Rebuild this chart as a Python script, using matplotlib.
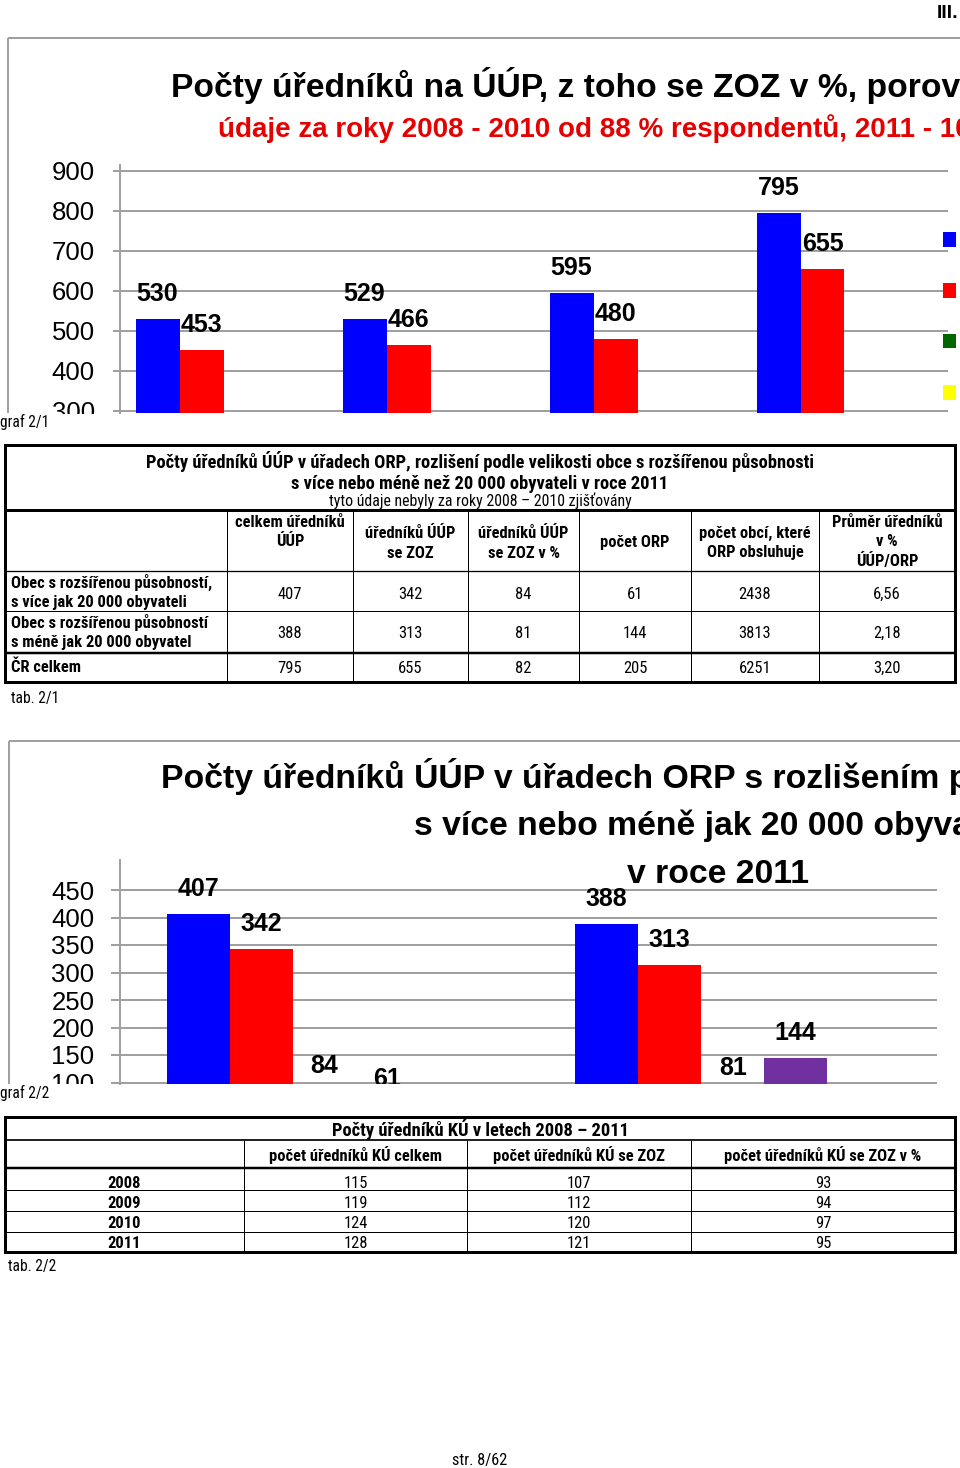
import numpy as np
import matplotlib
matplotlib.use('Agg')
import matplotlib.pyplot as plt
from matplotlib import font_manager as fm, transforms
from matplotlib.patches import Rectangle, Patch

# ---------------- data ----------------
years = ['2008', '2009', '2010', '2011']
g1_celkem = [530, 529, 595, 795]
g1_zoz = [453, 466, 480, 655]
g1_zoz_pct = [85, 88, 81, 82]
g1_resp_pct = [88, 88, 88, 100]
g1_names = ['počet úředníků ÚÚP', 'z toho se ZOZ', 'se ZOZ v %', 'respondentů v %']
g1_ticks = [300, 400, 500, 600, 700, 800, 900]

t1_cols = ['celkem úředníků\nÚÚP', 'úředníků ÚÚP\nse ZOZ', 'úředníků ÚÚP\nse ZOZ v %',
           'počet ORP', 'počet obcí, které\nORP obsluhuje', 'Průměr úředníků\nv %\nÚÚP/ORP']
t1_rows = ['Obec s rozšířenou působností,\ns více jak 20 000 obyvateli',
           'Obec s rozšířenou působností\ns méně jak 20 000 obyvatel',
           'ČR celkem']
t1_celkem = [407, 388, 795]
t1_zoz = [342, 313, 655]
t1_zoz_pct = [84, 81, 82]
t1_orp = [61, 144, 205]
t1_obci = [2438, 3813, 6251]
t1_prumer = [6.56, 2.18, 3.20]
g2_names = ['celkem úředníků ÚÚP', 'úředníků ÚÚP se ZOZ', 'úředníků ÚÚP se ZOZ v %',
            'počet ORP', 'průměr úředníků ÚÚP/ORP']
g2_ticks = [100, 150, 200, 250, 300, 350, 400, 450]

t2_cols = ['počet úředníků KÚ celkem', 'počet úředníků KÚ se ZOZ', 'počet úředníků KÚ se ZOZ v %']
t2_years = ['2008', '2009', '2010', '2011']
t2_celkem = [115, 119, 124, 128]
t2_zoz = [107, 112, 120, 121]
t2_pct = [93, 94, 97, 95]

T1_TITLE = 'Počty úředníků ÚÚP v úřadech ORP, rozlišení podle velikosti obce s rozšířenou působnosti'

# ---------------- style ----------------
W, H = 960, 1468
plt.rcParams['font.family'] = ['Liberation Sans', 'DejaVu Sans']
GRID = '#a0a0a0'
PX = 0.72  # points per pixel at dpi 100

fig = plt.figure(figsize=(W / 100, H / 100), dpi=100)

# choose a narrow font for the tables (Arial Narrow look)
_names = {f.name for f in fm.fontManager.ttflist}
NARROW_FAM, NARROW_STRETCH = None, 'normal'
for cand in ['Liberation Sans Narrow', 'Arial Narrow', 'Roboto Condensed', 'Noto Sans Condensed',
             'Open Sans Condensed', 'Noto Sans Display Condensed']:
    if cand in _names:
        NARROW_FAM = cand
        break
if NARROW_FAM is None:
    for f in fm.fontManager.ttflist:
        if f.name in ('Noto Sans', 'Roboto', 'Open Sans') and str(f.stretch) in ('condensed', 'semi-condensed'):
            NARROW_FAM, NARROW_STRETCH = f.name, 'condensed'
            break
if NARROW_FAM is None:
    NARROW_FAM = 'Liberation Sans'
NARROW = [NARROW_FAM, 'DejaVu Sans']
_r = fig.canvas.get_renderer()
_t = fig.text(0, 0, T1_TITLE, fontsize=13.5, fontweight='bold', family=NARROW, fontstretch=NARROW_STRETCH)
NK = 670.0 / _t.get_window_extent(_r).width
_t.remove()


def add_ax_px(x0, y0, x1, y1, **kw):
    return fig.add_axes([x0 / W, 1 - y1 / H, (x1 - x0) / W, (y1 - y0) / H], **kw)


def setup_chart(ax, ticks, tick_len, pad):
    ax.set_yticks(ticks)
    ax.set_yticklabels([str(t) for t in ticks])
    ax.tick_params(axis='y', length=tick_len, width=2 * PX, color=GRID, pad=pad,
                   labelsize=18.5, labelcolor='black')
    ax.tick_params(axis='x', bottom=False, labelbottom=False)
    for s in ['top', 'right', 'bottom']:
        ax.spines[s].set_visible(False)
    ax.spines['left'].set_color(GRID)
    ax.spines['left'].set_linewidth(2 * PX)
    ax.yaxis.grid(True, color=GRID, lw=2 * PX)
    ax.set_axisbelow(True)
    ax.patch.set_alpha(0)


def bar_labels(ax, bars, vals, fmt):
    tr = transforms.offset_copy(ax.transData, fig=fig, x=0, y=18, units='dots')
    for b, v in zip(bars, vals):
        t = ax.text(b.get_x() + b.get_width() / 2, v, fmt(v), transform=tr,
                    ha='center', va='baseline', fontsize=18, fontweight='bold')
        t.set_clip_on(True)
        t.set_clip_box(ax.bbox)


# ---------------- chart 1 ----------------
c1_top, c1_bot = 165, 413
c1_px300, c1_scale = 411, 0.4   # pixel of 300, pixels per unit
ax1 = add_ax_px(120, c1_top, 948, c1_bot, zorder=1)
ax1.set_ylim(300 - (c1_bot - c1_px300) / c1_scale, 300 + (c1_px300 - c1_top) / c1_scale)
x1 = np.arange(len(years))
w1 = 0.2125
series1 = [g1_celkem, g1_zoz, g1_zoz_pct, g1_resp_pct]
colors1 = ['#0000ff', '#ff0000', '#006600', '#ffff00']
for i, (vals, col, nm) in enumerate(zip(series1, colors1, g1_names)):
    bars = ax1.bar(x1 + (i - 1.5) * w1, vals, w1, color=col, label=nm, zorder=2, linewidth=0)
    bar_labels(ax1, bars, vals, lambda v: f'{v}')
ax1.set_xlim(-0.5, len(years) - 0.5)
setup_chart(ax1, g1_ticks, 7 * PX, 13)
ax1.legend(handles=[Patch(facecolor=c, edgecolor='none') for c in colors1], labels=g1_names,
           loc='upper left', bbox_to_anchor=(943 / W, 1 - 229.5 / H), bbox_transform=fig.transFigure,
           frameon=False, fontsize=14, handlelength=0.67, handleheight=0.8, labelspacing=1.68,
           borderpad=0, borderaxespad=0, handletextpad=0.5)

# ---------------- chart 2 ----------------
c2_top, c2_bot = 860, 1084
c2_px100, c2_scale = 1082.5, 0.55
ax2 = add_ax_px(120, c2_top, 937, c2_bot, zorder=1)
ax2.set_ylim(100 - (c2_bot - c2_px100) / c2_scale, 100 + (c2_px100 - c2_top) / c2_scale)
x2 = np.arange(2)
w2 = 0.1542
series2 = [t1_celkem[:2], t1_zoz[:2], t1_zoz_pct[:2], t1_orp[:2], t1_prumer[:2]]
colors2 = ['#0000ff', '#ff0000', '#006600', '#7030a0', '#ffff00']
fmts2 = [lambda v: f'{v}'] * 4 + [lambda v: f'{v:.2f}'.replace('.', ',')]
for i, (vals, col, nm, fm_) in enumerate(zip(series2, colors2, g2_names, fmts2)):
    bars = ax2.bar(x2 + (i - 2) * w2, vals, w2, color=col, label=nm, zorder=2, linewidth=0)
    bar_labels(ax2, bars, vals, fm_)
ax2.set_xlim(-0.5, 1.5)
setup_chart(ax2, g2_ticks, 9 * PX, 12)

# ---------------- page overlay (frames, titles, tables) ----------------
pg = fig.add_axes([0, 0, 1, 1], zorder=10)
pg.set_xlim(0, W)
pg.set_ylim(H, 0)
pg.axis('off')
pg.patch.set_visible(False)


def line(xs, ys, lw_px, color='black'):
    pg.plot(xs, ys, color=color, lw=lw_px * PX, solid_capstyle='butt')


def txt(x, y, s, size, bold=False, ha='left', family=None, color='black', stretch='normal'):
    pg.text(x, y, s, fontsize=size, fontweight='bold' if bold else 'normal', ha=ha,
            va='baseline', family=family or ['Liberation Sans', 'DejaVu Sans'], color=color,
            fontstretch=stretch, zorder=6)


def ntxt(x, y, s, size, bold=False, ha='left'):
    txt(x, y, s, size * NK, bold, ha, NARROW, stretch=NARROW_STRETCH)


def nlines(x, y0, s, size, bold=False, ha='center', step=20):
    for k, ln in enumerate(s.split('\n')):
        ntxt(x, y0 + k * step, ln, size, bold, ha)


# masks simulating the cropped chart pictures
pg.add_patch(Rectangle((50, 413.5), 64, 14, facecolor='white', edgecolor='none', zorder=5))
pg.add_patch(Rectangle((50, 1084), 64, 10, facecolor='white', edgecolor='none', zorder=5))

# chart frames
line([8, 960], [38, 38], 2, GRID)
line([8, 8], [38, 413], 2, GRID)
line([9, 960], [741, 741], 2, GRID)
line([9, 9], [741, 1084], 2, GRID)

txt(958, 18.5, 'III.', 14, True, ha='right')

# chart titles
txt(171, 97, 'Počty úředníků na ÚÚP, z toho se ZOZ v %, porovnání 2008 - 2011', 24.2, True)
txt(218, 137, 'údaje za roky 2008 - 2010 od 88 % respondentů, 2011 - 100 % respondentů', 20, True,
    color='#e60000')
txt(161, 788, 'Počty úředníků ÚÚP v úřadech ORP s rozlišením podle velikosti obce', 24.3, True)
txt(414, 835, 's více nebo méně jak 20 000 obyvateli', 24.3, True)
txt(718, 883, 'v roce 2011', 24.3, True, ha='center')

# captions
ntxt(0, 427, 'graf 2/1', 11.3)
ntxt(11, 703, 'tab. 2/1', 11.3)
ntxt(0, 1098, 'graf 2/2', 11.3)
ntxt(8, 1271, 'tab. 2/2', 11.3)
ntxt(480, 1465, 'str. 8/62', 11.8, ha='center')

# ---- table 1 ----
T1X = [5, 227, 353, 468, 579, 691, 819, 955]
pg.add_patch(Rectangle((5, 445), 950, 237, fill=False, lw=3 * PX, edgecolor='black'))
line([5, 955], [510, 510], 3)
line([5, 955], [571, 571], 1.3)
line([5, 955], [611, 611], 1)
line([5, 955], [653, 653], 2.5)
for xv in T1X[1:-1]:
    line([xv, xv], [510, 682], 1)
ntxt(480, 468, T1_TITLE, 13.5, True, 'center')
ntxt(480, 489, 's více nebo méně než 20 000 obyvateli v roce 2011', 13.5, True, 'center')
ntxt(480, 506, 'tyto údaje nebyly za roky 2008 – 2010 zjišťovány', 11.6, False, 'center')
head_base = [527, 538, 538, 547, 538, 527]
for j, h in enumerate(t1_cols):
    nlines((T1X[j + 1] + T1X[j + 2]) / 2, head_base[j], h, 12, True, step=19.5)
row_base = [588, 628, 672]
val_base = [599, 638, 673]
t1_cells = [t1_celkem, t1_zoz, t1_zoz_pct, t1_orp, t1_obci,
            [f'{v:.2f}'.replace('.', ',') for v in t1_prumer]]
for r, lab in enumerate(t1_rows):
    nlines(11, row_base[r], lab, 12, True, ha='left', step=18.7)
    for j, col in enumerate(t1_cells):
        ntxt((T1X[j + 1] + T1X[j + 2]) / 2, val_base[r], str(col[r]), 12, False, 'center')

# ---- table 2 ----
T2X = [5, 244, 467, 691, 955]
pg.add_patch(Rectangle((5, 1117), 950, 135, fill=False, lw=3 * PX, edgecolor='black'))
line([5, 955], [1140, 1140], 1.7)
line([5, 955], [1168, 1168], 2.5)
for yv in [1190, 1211, 1232]:
    line([5, 955], [yv, yv], 1)
for xv in T2X[1:-1]:
    line([xv, xv], [1140, 1252], 1)
ntxt(480, 1135.5, 'Počty úředníků KÚ v letech 2008 – 2011', 13.5, True, 'center')
for j, h in enumerate(t2_cols):
    ntxt((T2X[j + 1] + T2X[j + 2]) / 2, 1160.5, h, 12, True, 'center')
t2_base = [1188, 1208, 1228.5, 1248.5]
for r, yr in enumerate(t2_years):
    ntxt((T2X[0] + T2X[1]) / 2, t2_base[r], yr, 12, True, 'center')
    for j, col in enumerate([t2_celkem, t2_zoz, t2_pct]):
        ntxt((T2X[j + 1] + T2X[j + 2]) / 2, t2_base[r], str(col[r]), 12, False, 'center')

fig.savefig('out.png', dpi=100)
